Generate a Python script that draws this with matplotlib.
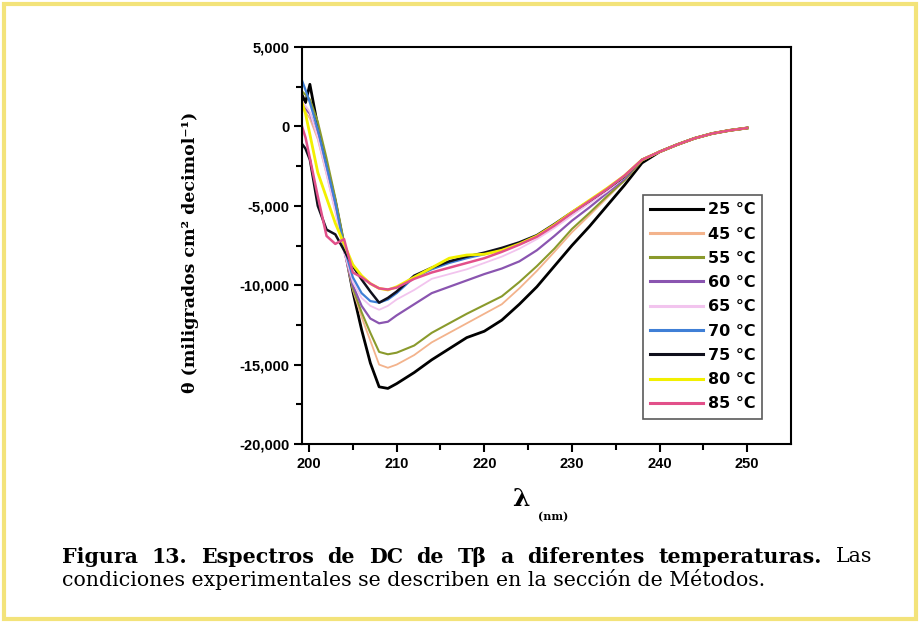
import matplotlib
matplotlib.use('Agg')
import matplotlib.pyplot as plt
from matplotlib.patches import Rectangle

# longitudes de onda (nm), comunes a todas las curvas
wl = [199.2, 199.6, 200.1, 201, 202, 203, 204, 205, 206, 207, 208, 209, 210,
      212, 214, 216, 218, 220, 222, 224, 226, 228, 230, 232, 234, 236, 238,
      240, 242, 244, 246, 248, 250]

# cola comun (240 -> 250)
tail = [-1600, -1150, -750, -450, -250, -100]

t25 = [2000, 1500, 2650, 0, -2400, -4700, -7500, -10400, -12800, -14900, -16400, -16500, -16200,
       -15500, -14700, -14000, -13300, -12900, -12200, -11200, -10100, -8800, -7500, -6300, -5000, -3700, -2300] + tail
t45 = [1200, 900, 500, -800, -3000, -5300, -7800, -10300, -12000, -13500, -15000, -15200, -15000,
       -14400, -13600, -13000, -12400, -11800, -11200, -10200, -9100, -7900, -6670, -5600, -4500, -3400, -2150] + tail
t55 = [2200, 2000, 1700, 300, -2000, -4500, -7300, -10200, -11700, -13000, -14200, -14350, -14250,
       -13800, -13000, -12400, -11800, -11250, -10700, -9800, -8800, -7700, -6460, -5450, -4400, -3400, -2150] + tail
t60 = [1300, 1100, 800, -500, -2800, -5100, -7800, -10000, -11300, -12100, -12400, -12300, -11900,
       -11200, -10500, -10100, -9700, -9300, -8950, -8500, -7800, -6900, -5940, -5100, -4200, -3300, -2100] + tail
t65 = [1600, 1300, 900, -700, -3000, -5400, -7900, -9800, -10800, -11300, -11550, -11300, -10900,
       -10300, -9600, -9300, -9000, -8600, -8200, -7700, -7100, -6400, -5620, -4850, -4100, -3200, -2100] + tail
t70 = [2900, 2300, 1500, -200, -2500, -4800, -7600, -9500, -10500, -11000, -11100, -10900, -10500,
       -9500, -9000, -8600, -8300, -8050, -7750, -7400, -6900, -6200, -5450, -4700, -3950, -3150, -2100] + tail
t75 = [-1100, -1400, -2100, -5000, -6500, -6800, -7800, -8800, -9640, -10400, -11100, -10800, -10400,
       -9400, -8900, -8500, -8200, -7950, -7650, -7300, -6850, -6150, -5400, -4700, -3950, -3150, -2100] + tail
t80 = [1500, 800, -500, -2900, -4500, -6100, -7400, -8700, -9400, -9900, -10200, -10300, -10100,
       -9500, -8900, -8300, -8100, -8050, -7800, -7400, -6900, -6200, -5400, -4650, -3900, -3100, -2100] + tail
t85 = [0, -700, -2000, -4400, -6900, -7400, -7100, -9200, -9500, -9900, -10200, -10270, -10150,
       -9600, -9200, -8900, -8600, -8300, -7900, -7450, -6950, -6250, -5450, -4700, -3950, -3100, -2100] + tail

labels = ['25 °C', '45 °C', '55 °C', '60 °C', '65 °C', '70 °C', '75 °C', '80 °C', '85 °C']
series = [t25, t45, t55, t60, t65, t70, t75, t80, t85]
colores = ['#000000', '#f3b38c', '#8a9a2c', '#8a55b0', '#f2c4ee', '#3f7fd6', '#10101c', '#f2f000', '#e2508a']
anchos = [2.0, 1.3, 1.5, 1.6, 1.3, 1.6, 1.8, 2.0, 1.8]

xticks = [200, 210, 220, 230, 240, 250]
yticks = [5000, 0, -5000, -10000, -15000, -20000]
yticklabels = ['5,000', '0', '-5,000', '-10,000', '-15,000', '-20,000']

fig = plt.figure(figsize=(9.2, 6.23), dpi=100)
ax = fig.add_axes([302/920, 1-444/623, 489/920, 397/623])

for y, lab, c, lw in zip(series, labels, colores, anchos):
    ax.plot(wl, y, color=c, lw=lw, label=lab)

ax.set_xlim(199.2, 255)
ax.set_ylim(-20000, 5000)
ax.set_xticks(xticks)
ax.set_xticks([205, 215, 225, 235, 245], minor=True)
ax.set_yticks(yticks)
ax.set_yticklabels(yticklabels)
ax.set_yticks([2500, -2500, -7500, -12500, -17500], minor=True)
ax.tick_params(which='both', direction='out', width=1.5, top=False, right=False)
ax.tick_params(which='major', length=6, labelsize=10.5, pad=3)
ax.tick_params(which='minor', length=4)
for lab in ax.get_xticklabels() + ax.get_yticklabels():
    lab.set_fontfamily('Liberation Sans')
    lab.set_fontweight('bold')
for s in ax.spines.values():
    s.set_linewidth(1.5)

leg = ax.legend(loc='upper left', bbox_to_anchor=(0.697, 0.627), borderaxespad=0, frameon=True,
                fancybox=False, edgecolor='#303030', handlelength=3.3, handletextpad=0.3,
                labelspacing=0.58, borderpad=0.45,
                prop={'family': 'DejaVu Sans', 'weight': 'bold', 'size': 11.5})
leg.get_frame().set_linewidth(1.2)
for h in leg.get_lines():
    h.set_linewidth(2.2)

fig.text(191/920, 1-252/623, 'θ (miligrados cm² decimol⁻¹)', rotation=90, ha='center', va='center',
         family='DejaVu Serif', weight='bold', fontsize=12.5)
fig.text(521/920, 1-499/623, 'λ', ha='center', va='center', family='DejaVu Serif', weight='bold', fontsize=18)
fig.text(553/920, 1-517/623, '(nm)', ha='center', va='center', family='DejaVu Serif', weight='bold', fontsize=8)

# pie de figura, primera linea justificada
fig.canvas.draw()
renderer = fig.canvas.get_renderer()
palabras = ['Figura', '13.', 'Espectros', 'de', 'DC', 'de', 'Tβ', 'a', 'diferentes', 'temperaturas.', 'Las']
textos = []
for p in palabras:
    peso = 'normal' if p == 'Las' else 'bold'
    textos.append(fig.text(0, 1-557/623, p, ha='left', va='center', family='DejaVu Serif',
                           weight=peso, fontsize=14.8))
anchos_txt = [t.get_window_extent(renderer).width for t in textos]
hueco = (872 - 62 - sum(anchos_txt)) / (len(palabras) - 1)
x = 62
for t, w in zip(textos, anchos_txt):
    t.set_x(x/920)
    x += w + hueco
fig.text(62/920, 1-580/623, 'condiciones experimentales se describen en la sección de Métodos.',
         ha='left', va='center', family='DejaVu Serif', fontsize=14.8)

fig.patches.append(Rectangle((0.004, 0.006), 0.992, 0.988, transform=fig.transFigure, fill=False,
                             edgecolor='#f3e37a', lw=3))

fig.savefig('out.png', dpi=100)
